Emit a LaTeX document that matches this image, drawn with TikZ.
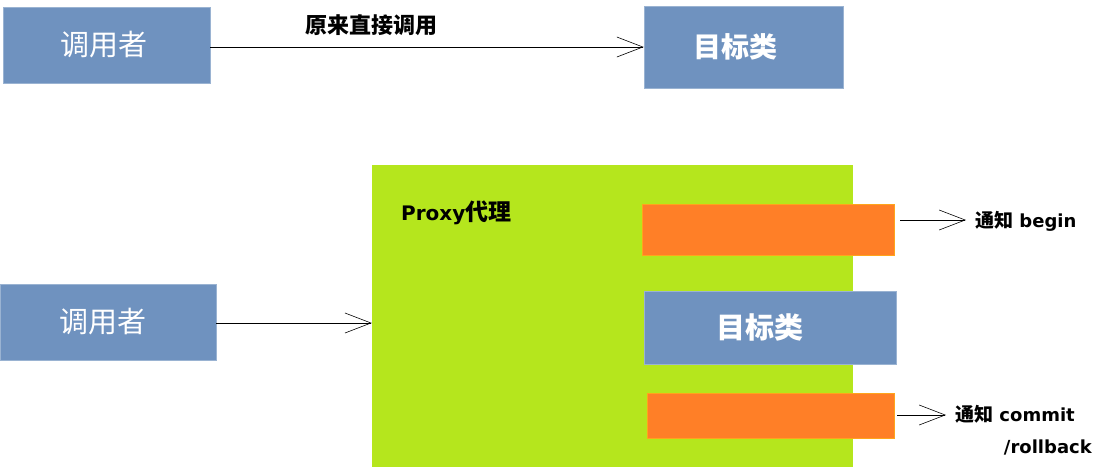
\documentclass[tikz,border=0pt]{standalone}
\usepackage{fontspec}
\setmainfont{DejaVu Sans}
\newfontfamily\cjk{Noto Sans CJK SC}
\usetikzlibrary{arrows.meta}
\definecolor{boxblue}{RGB}{111,146,191}
\definecolor{proxygreen}{RGB}{181,230,29}
\definecolor{notifyorange}{RGB}{255,127,39}
\tikzset{
  bluebox/.style={fill=boxblue, draw=boxblue!70!white, line width=0.6pt, text=white},
  orangebox/.style={fill=notifyorange, draw=notifyorange!70!yellow, line width=0.6pt},
  conn/.style={draw=black, line width=0.8pt, -{Straight Barb[length=26pt,width=20pt,line width=0.6pt]}},
  lbl/.style={text=black, font=\bfseries\fontsize{18}{22}\selectfont, inner sep=0pt},
}
\newcommand{\zh}[2]{{\cjk\fontsize{#1}{#1}\selectfont #2}}
\begin{document}
\begin{tikzpicture}[x=1pt,y=-1pt]
\useasboundingbox (0,0) rectangle (1096,475);
% top row
\node[bluebox, minimum width=207pt, minimum height=76pt, font=\cjk\fontsize{29}{32}\selectfont] (caller1) at (106.5,45) {\makebox[0pt]{\hspace*{-6pt}调用者}};
\node[bluebox, minimum width=199pt, minimum height=82pt, font=\cjk\bfseries\fontsize{28}{32}\selectfont] (target1) at (743.5,47) {\makebox[0pt]{\hspace*{-16pt}目标类}};
\draw[conn] (caller1.east |- 0,47) -- (target1.west |- 0,47);
\node[lbl, font=\cjk\bfseries\fontsize{22}{26}\selectfont] (direct) at (371,25) {原来直接调用};
% proxy
\node[fill=proxygreen, minimum width=481pt, minimum height=302pt, inner sep=0pt] (proxy) at (612.5,316) {};
\node[lbl, font=\bfseries\fontsize{20}{24}\selectfont, anchor=west] (proxylbl) at (401,213) {Proxy\zh{23}{代理}};
\node[orangebox, minimum width=252pt, minimum height=51pt] (begin) at (768,229.5) {};
\node[bluebox, minimum width=252pt, minimum height=73pt, font=\cjk\bfseries\fontsize{29}{32}\selectfont] (target2) at (770,327.5) {\makebox[0pt]{\hspace*{-20pt}目标类}};
\node[orangebox, minimum width=247pt, minimum height=45pt] (commit) at (770.5,415.5) {};
% bottom caller
\node[bluebox, minimum width=216pt, minimum height=76pt, font=\cjk\fontsize{29}{32}\selectfont] (caller2) at (108,322) {\makebox[0pt]{\hspace*{-10pt}调用者}};
\draw[conn] (caller2.east |- 0,323) -- (proxy.west |- 0,323);
% notifications
\coordinate (b0) at (900,220);
\coordinate (b1) at (966,220);
\draw[conn] (b0) -- (b1);
\node[lbl, anchor=west] (beginlbl) at (975,221) {\zh{19}{通知} begin};
\coordinate (c0) at (897,415);
\coordinate (c1) at (946,415);
\draw[conn] (c0) -- (c1);
\node[lbl, anchor=west] (commitlbl) at (955,414) {\zh{19}{通知} commit};
\node[lbl, anchor=east] (rollbacklbl) at (1092,447) {/rollback};
\end{tikzpicture}
\end{document}
